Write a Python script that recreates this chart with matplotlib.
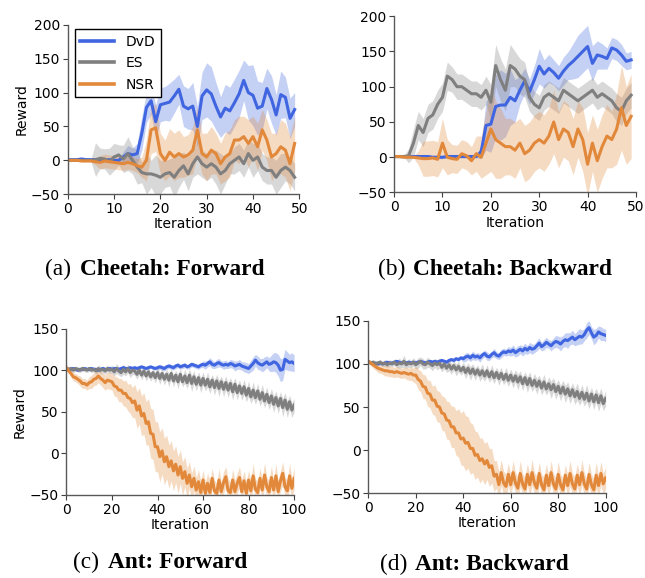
import numpy as np
import matplotlib.pyplot as plt

# ---- Cheetah: Forward (iterations 0..49)
dvd_a = [1, 1, 1, 2, 1, 1, 1, 0, 0, 1, 0, 0, 5, 10, 8, 10, 40, 78, 88, 57,
         82, 84, 86, 95, 105, 80, 76, 80, 50, 95, 104, 98, 80, 64, 77, 73, 85, 98, 118, 100,
         96, 77, 80, 106, 90, 67, 97, 93, 62, 75]
dvd_a_sd = [2, 2, 2, 2, 2, 2, 2, 2, 2, 2, 2, 2, 8, 12, 10, 15, 25, 22, 20, 25,
            25, 25, 28, 25, 22, 30, 30, 35, 30, 35, 40, 40, 35, 30, 35, 35, 35, 35, 30, 40,
            45, 40, 35, 30, 35, 30, 35, 30, 30, 25]
es_a = [0, 0, 0, 0, 0, 0, 1, 3, 2, -2, 5, 8, 2, 10, 0, -10, -18, -20, -20, -22,
        -25, -20, -18, -25, -15, -8, -20, -5, 5, -5, -10, -5, -10, -20, -15, -5, 0, 5, -5, 10,
        0, 5, -10, -15, -15, -25, -15, -10, -15, -25]
es_a_sd = [1, 1, 1, 1, 1, 1, 25, 15, 15, 20, 20, 15, 20, 25, 20, 25, 15, 30, 20, 30,
           25, 20, 20, 30, 25, 20, 25, 20, 25, 20, 20, 20, 25, 30, 20, 15, 20, 20, 20, 20,
           25, 20, 20, 20, 20, 25, 25, 20, 20, 20]
nsr_a = [0, 0, 0, -1, -1, -1, -2, -3, -1, -2, -3, -4, -5, -3, -5, -8, -10, 0, 45, 48,
         10, 0, 12, 5, 10, 5, 8, 15, 45, 10, 5, 15, 10, -5, 5, 10, 30, 30, 35, 25,
         35, 20, 45, 30, 5, 10, 20, 15, -5, 25]
nsr_a_sd = [1, 1, 1, 1, 1, 1, 5, 10, 10, 10, 10, 10, 10, 10, 10, 10, 15, 30, 35, 35,
            30, 30, 35, 35, 35, 30, 30, 35, 35, 30, 35, 35, 30, 30, 35, 35, 30, 35, 30, 35,
            30, 35, 30, 30, 35, 30, 40, 40, 40, 40]

# ---- Cheetah: Backward (iterations 0..49)
dvd_b = [1, 1, 1, 1, 1, 1, 1, 1, 0, 0, 0, 1, 1, 1, 1, 1, 1, 1, 8, 45,
         47, 72, 74, 74, 85, 80, 95, 108, 93, 110, 129, 118, 126, 120, 112, 122, 130, 136, 143, 150,
         157, 133, 145, 143, 140, 155, 152, 145, 136, 138]
dvd_b_sd = [2, 2, 2, 2, 2, 2, 2, 2, 2, 2, 2, 2, 2, 2, 2, 2, 2, 2, 10, 35,
            40, 45, 50, 45, 40, 30, 20, 18, 18, 20, 25, 20, 20, 18, 18, 20, 20, 25, 30, 30,
            30, 25, 20, 18, 15, 15, 15, 15, 12, 12]
es_b = [1, 1, 1, 2, 20, 45, 35, 55, 60, 75, 85, 115, 110, 100, 100, 95, 90, 90, 85, 95,
        78, 130, 110, 95, 130, 125, 115, 110, 85, 75, 70, 85, 90, 85, 80, 95, 90, 85, 80, 85,
        90, 95, 85, 90, 85, 80, 70, 65, 80, 88]
es_b_sd = [1, 1, 1, 10, 20, 20, 20, 20, 20, 20, 20, 20, 18, 18, 18, 18, 18, 18, 18, 20,
           25, 30, 30, 30, 30, 25, 25, 25, 20, 18, 18, 18, 18, 18, 18, 18, 18, 18, 18, 18,
           18, 18, 18, 18, 18, 18, 20, 20, 18, 18]
nsr_b = [1, 1, 0, 0, 0, -1, -2, -2, -1, -3, 20, 0, -2, -3, 5, 2, -5, 5, 0, 20,
         40, 25, 20, 15, 15, 10, 20, 5, 10, 20, 25, 20, 30, 50, 25, 40, 35, 15, 40, 25,
         -10, 20, -5, 15, 30, 25, 40, 70, 45, 58]
nsr_b_sd = [1, 1, 1, 1, 1, 10, 25, 25, 25, 25, 35, 25, 20, 20, 20, 20, 20, 25, 30, 45,
            60, 55, 50, 40, 40, 40, 35, 40, 40, 40, 40, 40, 40, 45, 40, 40, 40, 40, 40, 45,
            45, 40, 45, 45, 45, 40, 50, 60, 55, 60]

# ---- Ant: Forward (iterations 0..100)
dvd_c = [102, 101, 101, 102, 101, 100, 101, 101, 102, 101,
         101, 102, 101, 101, 100, 101, 102, 101, 101, 102,
         101, 102, 102, 101, 102, 103, 102, 102, 103, 102,
         103, 102, 103, 104, 103, 102, 103, 104, 103, 102,
         103, 104, 103, 102, 104, 105, 104, 103, 105, 106,
         104, 105, 106, 104, 105, 107, 106, 105, 104, 106,
         107, 106, 108, 110, 107, 106, 108, 109, 107, 106,
         107, 106, 108, 107, 105, 106, 107, 105, 104, 103,
         102, 105, 108, 112, 109, 107, 106, 108, 110, 107,
         108, 110, 109, 106, 100, 101, 113, 111, 109, 110, 108]
dvd_c_sd = [2] * 40 + [3] * 20 + [4, 5, 4, 5, 5, 4, 5, 5, 4, 5, 5, 4, 5, 5, 6, 5, 6, 5, 6, 6,
                                   6, 7, 8, 7, 8, 7, 8, 8, 7, 8, 10, 11, 12, 13, 14, 13, 12, 11, 10, 11, 10]
es_c = [102, 101, 102, 100, 102, 101, 100, 102, 101, 100,
        102, 100, 101, 99, 102, 100, 101, 99, 102, 100,
        101, 98, 102, 99, 97, 101, 98, 102, 97, 100,
        99, 95, 100, 94, 99, 93, 98, 92, 97, 91,
        97, 90, 96, 89, 95, 88, 96, 87, 94, 86,
        95, 86, 93, 85, 94, 84, 92, 83, 91, 82,
        90, 82, 89, 80, 88, 79, 87, 78, 86, 77,
        85, 76, 84, 74, 83, 73, 81, 72, 80, 70,
        78, 68, 76, 67, 75, 65, 73, 63, 71, 61,
        69, 59, 67, 57, 66, 55, 64, 53, 62, 52, 58]
es_c_sd = [2, 2, 3, 3, 3, 3, 3, 3, 3, 3, 3, 3, 3, 4, 4, 4, 4, 4, 4, 4,
           5, 5, 6, 5, 5, 6, 5, 5, 6, 5, 5, 6, 5, 6, 5, 6, 6, 5, 6, 6,
           6, 7, 6, 7, 6, 8, 6, 7, 6, 8, 7, 6, 9, 7, 8, 10, 7, 8, 7, 9,
           8, 7, 9, 8, 7, 9, 8, 10, 7, 9, 8, 9, 7, 10, 8, 9, 7, 8, 9, 8,
           9, 8, 10, 8, 9, 8, 10, 8, 9, 8, 9, 10, 8, 9, 8, 11, 9, 10, 8, 9, 8]
nsr_c = [103, 99, 96, 92, 91, 89, 87, 84, 84, 82,
         85, 86, 89, 90, 93, 90, 88, 85, 88, 87,
         86, 81, 80, 76, 76, 72, 72, 67, 66, 61,
         63, 52, 57, 45, 48, 36, 38, 24, 23, 8,
         8, -4, 3, -10, -4, -16, -9, -21, -13, -26,
         -16, -30, -22, -36, -26, -40, -30, -44, -34, -47,
         -32, -48, -36, -47, -30, -45, -48, -32, -46, -35,
         -28, -45, -47, -32, -46, -36, -29, -46, -33, -48,
         -32, -45, -27, -43, -47, -30, -44, -26, -40, -46,
         -29, -44, -27, -46, -33, -24, -40, -45, -27, -42, -30]
nsr_c_sd = [2, 3, 4, 5, 5, 5, 6, 6, 6, 6, 7, 8, 8, 8, 8, 8, 9, 9, 10, 10,
            10, 12, 12, 14, 14, 15, 16, 16, 18, 18, 20, 22, 22, 24, 25, 26, 28, 30, 30, 30,
            30, 30, 28, 28, 26, 26, 24, 24, 22, 22, 20, 20, 18, 18, 16, 16, 15, 15, 14, 14,
            12, 14, 12, 15, 12, 13, 12, 14, 12, 13, 12, 15, 12, 13, 14, 12, 13, 15, 12, 14,
            12, 13, 15, 12, 14, 12, 13, 15, 12, 13, 14, 12, 15, 13, 12, 14, 12, 13, 15, 12, 13]

# ---- Ant: Backward (iterations 0..100)
dvd_d = [103, 101, 100, 101, 100, 101, 100, 101, 102, 101,
         101, 102, 103, 102, 101, 102, 101, 102, 101, 102,
         101, 102, 103, 102, 101, 102, 103, 102, 103, 102,
         103, 104, 103, 102, 104, 105, 104, 106, 105, 107,
         106, 108, 109, 107, 110, 108, 109, 107, 110, 112,
         109, 108, 111, 113, 110, 109, 112, 114, 113, 115,
         114, 116, 113, 115, 117, 115, 118, 116, 119, 117,
         118, 121, 124, 120, 122, 125, 123, 121, 124, 126,
         125, 123, 126, 128, 127, 129, 131, 128, 130, 132,
         131, 134, 139, 142, 136, 131, 133, 137, 135, 134, 133]
dvd_d_sd = [2] * 40 + [4, 5, 4, 4, 5, 4, 4, 5, 4, 4, 5, 4, 4, 5, 4, 4, 5, 4, 4, 5,
                       5, 6, 5, 6, 5, 6, 6, 5, 6, 6, 5, 6, 6, 5, 6, 6, 5, 6, 6, 7,
                       7, 8, 7, 8, 9, 7, 8, 7, 8, 9, 8, 7, 9, 8, 7, 9, 8, 7, 8, 7, 7]
es_d = [103, 101, 102, 100, 101, 102, 100, 101, 99, 101,
        100, 102, 99, 101, 100, 103, 99, 101, 100, 102,
        99, 101, 103, 100, 99, 102, 100, 98, 101, 99,
        101, 96, 100, 95, 99, 94, 98, 93, 97, 92,
        96, 90, 95, 89, 94, 88, 93, 87, 92, 86,
        92, 85, 91, 84, 90, 83, 89, 82, 88, 81,
        87, 80, 86, 79, 85, 77, 84, 76, 83, 75,
        81, 74, 80, 72, 79, 71, 77, 70, 76, 68,
        74, 66, 73, 65, 71, 63, 70, 62, 68, 60,
        67, 59, 66, 57, 65, 56, 64, 55, 63, 54, 60]
es_d_sd = [2, 2, 3, 3, 3, 3, 3, 4, 3, 4, 3, 4, 3, 6, 4, 7, 4, 5, 4, 5,
           5, 6, 5, 6, 5, 6, 5, 6, 5, 6, 6, 5, 6, 5, 7, 6, 5, 7, 6, 5,
           6, 7, 6, 8, 6, 7, 6, 7, 8, 6, 7, 6, 8, 7, 6, 8, 7, 6, 8, 7,
           7, 8, 7, 9, 7, 8, 7, 9, 8, 7, 8, 9, 7, 8, 9, 7, 8, 10, 8, 9,
           8, 9, 8, 10, 8, 9, 8, 9, 10, 8, 9, 8, 10, 9, 8, 9, 8, 10, 9, 8, 9]
nsr_d = [103, 101, 99, 97, 95, 94, 93, 92, 92, 91,
         91, 90, 91, 90, 89, 90, 89, 88, 89, 87,
         87, 82, 80, 74, 73, 66, 65, 58, 58, 51,
         50, 43, 42, 35, 34, 27, 27, 20, 20, 13,
         14, 8, 9, 2, 2, -6, -5, -12, -10, -16,
         -12, -20, -18, -30, -28, -40, -26, -38, -42, -28,
         -40, -26, -38, -44, -27, -39, -45, -28, -40, -26,
         -38, -44, -27, -40, -46, -29, -41, -26, -39, -45,
         -28, -40, -46, -29, -41, -27, -39, -45, -29, -40,
         -26, -39, -45, -28, -40, -46, -29, -41, -27, -39, -32]
nsr_d_sd = [2, 3, 4, 4, 5, 5, 5, 6, 6, 6, 6, 6, 6, 6, 6, 6, 7, 7, 8, 8,
            10, 12, 12, 14, 14, 15, 16, 16, 18, 18, 18, 20, 20, 22, 22, 24, 24, 26, 28, 30,
            32, 32, 30, 30, 28, 28, 26, 26, 24, 24, 22, 22, 20, 18, 16, 15, 15, 14, 14, 13,
            12, 14, 12, 13, 15, 12, 14, 12, 13, 15, 12, 14, 13, 12, 15, 13, 12, 14, 12, 13,
            15, 12, 14, 12, 13, 15, 12, 14, 13, 12, 15, 13, 12, 14, 12, 13, 15, 12, 14, 12, 13]

labels = ['DvD', 'ES', 'NSR']
colors = ['#3f65e0', '#7f7f7f', '#e2883a']

panels = [
    # axes rect, series, xmax, ylim, yticks, xticks, tag, caption, (tag x, caption x, baseline y), ylabel
    ([0.105, 0.664, 0.359, 0.293], [(dvd_a, dvd_a_sd), (es_a, es_a_sd), (nsr_a, nsr_a_sd)],
     50, (-50, 200), range(-50, 201, 50), range(0, 51, 10), '(a)', 'Cheetah: Forward', (45, 80, 275), True),
    ([0.611, 0.667, 0.375, 0.305], [(dvd_b, dvd_b_sd), (es_b, es_b_sd), (nsr_b, nsr_b_sd)],
     50, (-50, 200), range(-50, 201, 50), range(0, 51, 10), '(b)', 'Cheetah: Backward', (378, 413, 275), False),
    ([0.103, 0.1436, 0.353, 0.288], [(dvd_c, dvd_c_sd), (es_c, es_c_sd), (nsr_c, nsr_c_sd)],
     100, (-50, 150), range(-50, 151, 50), range(0, 101, 20), '(c)', 'Ant: Forward', (73, 108, 568), True),
    ([0.571, 0.1465, 0.368, 0.2986], [(dvd_d, dvd_d_sd), (es_d, es_d_sd), (nsr_d, nsr_d_sd)],
     100, (-50, 150), range(-50, 151, 50), range(0, 101, 20), '(d)', 'Ant: Backward', (380, 415, 570), False),
]

W, H = 645, 578
fig = plt.figure(figsize=(W / 100, H / 100), dpi=100)

for k, (rect, series, xmax, ylim, yticks, xticks, tag, cap, cpos, ylab) in enumerate(panels):
    ax = fig.add_axes(rect)
    for (mean, sd), col, name in zip(series, colors, labels):
        mean = np.array(mean, dtype=float)
        sd = np.array(sd, dtype=float)
        x = np.arange(len(mean))
        ax.fill_between(x, mean - sd, mean + sd, color=col, alpha=0.3, lw=0)
        ax.plot(x, mean, color=col, lw=2.2, label=name)
    ax.set_xlim(0, xmax)
    ax.set_ylim(*ylim)
    ax.set_xticks(list(xticks))
    ax.set_yticks(list(yticks))
    ax.tick_params(labelsize=10, length=3.5, width=0.8, color='0.25', pad=2)
    for s in ['top', 'right']:
        ax.spines[s].set_visible(False)
    for s in ['left', 'bottom']:
        ax.spines[s].set_color('0.35')
        ax.spines[s].set_linewidth(1.0)
    ax.set_xlabel('Iteration', fontsize=10, labelpad=1)
    if ylab:
        ax.set_ylabel('Reward', fontsize=10, labelpad=2)
    if k == 0:
        leg = ax.legend(loc='upper left', bbox_to_anchor=(0.03, 0.975), borderaxespad=0,
                        fontsize=10, fancybox=False, framealpha=1, edgecolor='black',
                        handlelength=2.4, handletextpad=0.9, labelspacing=0.55)
        leg.get_frame().set_linewidth(1.0)
        for line in leg.get_lines():
            line.set_linewidth(2.6)
    fig.text(cpos[0] / W, 1 - cpos[2] / H, tag, fontsize=16.8, family='Liberation Serif',
             ha='left', va='baseline')
    fig.text(cpos[1] / W, 1 - cpos[2] / H, cap, fontsize=16.8, family='Liberation Serif',
             weight='bold', ha='left', va='baseline')

fig.savefig('out.png', dpi=100)
